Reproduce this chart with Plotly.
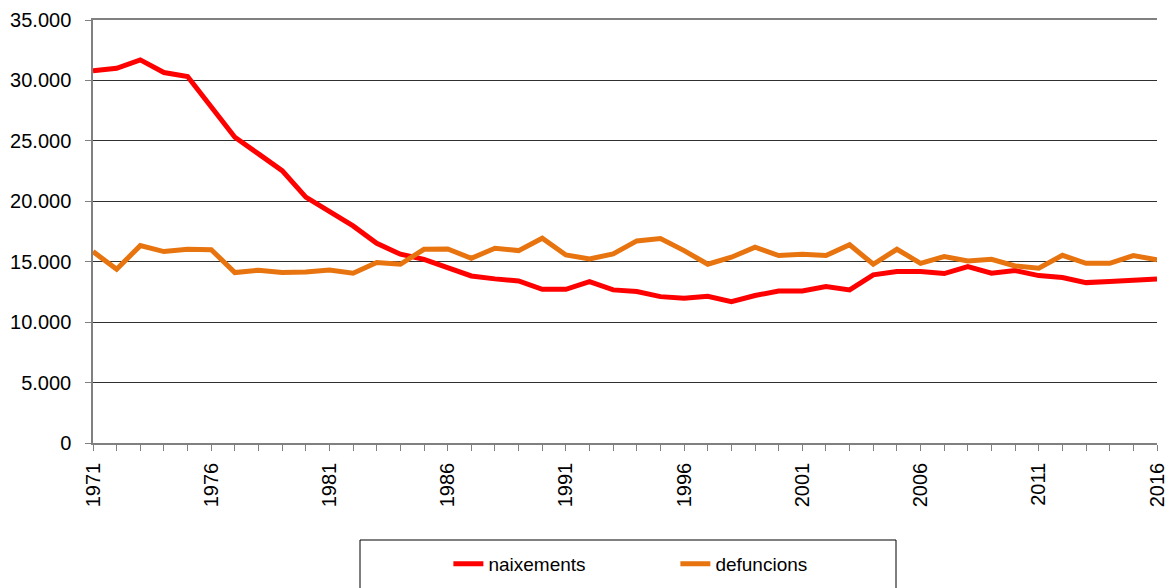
import plotly.graph_objects as go

years = list(range(1971, 2017))
naixements = [30800, 31000, 31700, 30650, 30320, 27840, 25300, 23920, 22540, 20340,
              19150, 17960, 16530, 15620, 15200, 14460, 13820, 13580, 13410, 12720,
              12720, 13360, 12670, 12530, 12110, 11980, 12140, 11700, 12200, 12580,
              12580, 12940, 12670, 13910, 14180, 14180, 14020, 14600, 14050, 14270,
              13850, 13690, 13270, 13360, 13470, 13580]
defuncions = [15840, 14380, 16330, 15840, 16030, 16000, 14100, 14300, 14100, 14150,
              14320, 14050, 14930, 14790, 16030, 16060, 15290, 16120, 15920, 16940,
              15560, 15230, 15650, 16720, 16910, 15920, 14790, 15370, 16200, 15510,
              15620, 15510, 16400, 14790, 16030, 14870, 15430, 15070, 15200, 14650,
              14460, 15530, 14870, 14870, 15510, 15150]
x_tickvals = [1971, 1976, 1981, 1986, 1991, 1996, 2001, 2006, 2011, 2016]
x_ticklabels = [str(v) for v in x_tickvals]
y_tickvals = [0, 5000, 10000, 15000, 20000, 25000, 30000, 35000]
y_ticklabels = ["0", "5.000", "10.000", "15.000", "20.000", "25.000", "30.000", "35.000"]

fig = go.Figure()
fig.add_trace(go.Scatter(x=years, y=naixements, mode="lines", name="naixements",
                         line=dict(color="#FF0000", width=5)))
fig.add_trace(go.Scatter(x=years, y=defuncions, mode="lines", name="defuncions",
                         line=dict(color="#E8740F", width=5)))

font = "Liberation Sans, Arial, sans-serif"
fig.update_layout(
    width=1169, height=588,
    margin=dict(l=93, r=12, t=20, b=145, autoexpand=False),
    paper_bgcolor="white", plot_bgcolor="white",
    font=dict(family=font, size=20, color="black"),
    showlegend=True,
    legend=dict(orientation="h", x=0.334, xanchor="left", y=-0.241, yanchor="top",
                font=dict(size=19, family=font, color="black"),
                bgcolor="rgba(0,0,0,0)", borderwidth=0,
                entrywidth=182, entrywidthmode="pixels", itemwidth=30),
    xaxis=dict(range=[1971, 2016], tickmode="array", tickvals=x_tickvals, ticktext=x_ticklabels,
               tickangle=-90, ticks="outside", ticklen=6, tickcolor="#808080", tickwidth=1,
               ticklabelstandoff=4, mirror=True,
               showline=True, linecolor="#808080", linewidth=1.5, showgrid=False, zeroline=False,
               tickfont=dict(size=20, family=font, color="black"),
               minor=dict(dtick=1, tick0=1971, ticks="outside", ticklen=6, tickcolor="#808080",
                          tickwidth=1, showgrid=False)),
    yaxis=dict(range=[0, 35000], tickmode="array", tickvals=y_tickvals, ticktext=y_ticklabels,
               ticks="outside", ticklen=6, tickcolor="#808080", tickwidth=1,
               ticklabelstandoff=10,
               showline=True, linecolor="#808080", linewidth=1.5,
               showgrid=True, gridcolor="#303030", gridwidth=1, zeroline=False,
               tickfont=dict(size=20, family=font, color="black")),
    shapes=[dict(type="rect", xref="paper", yref="paper",
                 x0=(360 - 93) / 1064, x1=(896 - 93) / 1064,
                 y0=-(540 - 443) / 423, y1=-(600 - 443) / 423,
                 line=dict(color="black", width=1), fillcolor="rgba(0,0,0,0)")],
)

fig.write_html("out.html", config={"displayModeBar": False},
               post_script="document.body.style.margin='0';document.body.style.overflow='hidden';")
